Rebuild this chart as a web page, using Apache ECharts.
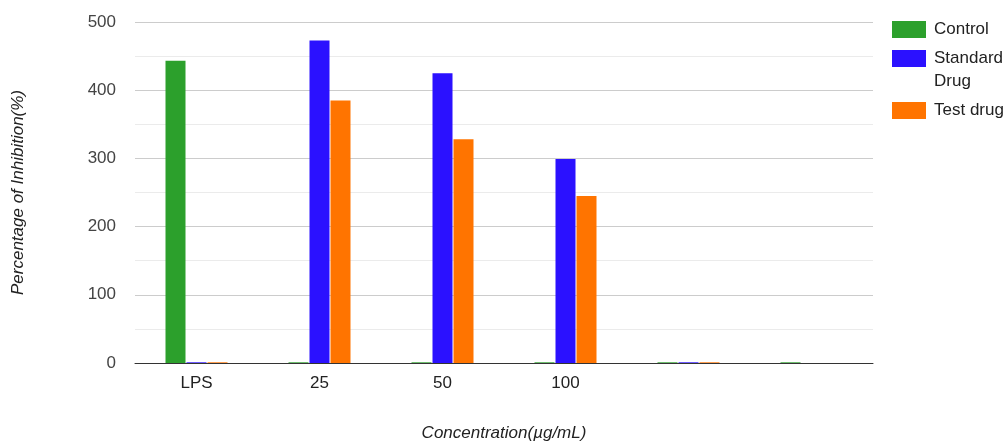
<!DOCTYPE html>
<html>
<head>
<meta charset="utf-8">
<script src="https://cdn.jsdelivr.net/npm/echarts@6/dist/echarts.min.js"></script>
<style>
  html, body { margin: 0; padding: 0; background: #fff; }
  #chart { width: 1007px; height: 441px; }
</style>
</head>
<body>
<div id="chart"></div>
<script>
// Concentration groups along the x axis (two trailing empty slots)
const categories = ['LPS', '25', '50', '100', '', ''];

// Percentage of inhibition per series
const controlValues = [443, 1, 1, 1, 1, 1];
const standardValues = [1, 473, 425, 299, 1, null];
const testValues = [1, 385, 328, 245, 1, null];

const yTicks = { min: 0, max: 500, step: 100 };

const font = 'Arial, "Liberation Sans", sans-serif';
const colors = { control: '#2ca02c', standard: '#2b11ff', test: '#ff7400' };

const tokenStyle = { fontFamily: font, fontSize: 17, color: '#222', lineHeight: 23, padding: [0, 0, 0, 3] };
const legendText = { fontFamily: font, fontSize: 17, color: '#222', lineHeight: 23, rich: { t: tokenStyle } };

function legendAt(top, name, formatter) {
  return {
    orient: 'vertical', left: 892, top: top, padding: 0,
    itemWidth: 34, itemHeight: 17, itemGap: 0, icon: 'rect',
    textStyle: legendText,
    formatter: formatter,
    data: [name]
  };
}

const chart = echarts.init(document.getElementById('chart'), null, { renderer: 'canvas' });

chart.setOption({
  animation: false,
  backgroundColor: '#fff',
  grid: { left: 135, right: 134, top: 22, bottom: 78, containLabel: false, outerBoundsMode: 'none' },
  legend: [
    legendAt(18, 'Control', function () { return '{t|Control}'; }),
    // blank first line keeps "Standard" level with the swatch, "Drug" below
    legendAt(24, 'Standard Drug', function () { return '{t| }\n{t|Standard}\n{t|Drug}'; }),
    legendAt(99, 'Test drug', function () { return '{t|Test drug}'; })
  ],
  xAxis: {
    type: 'category',
    data: categories,
    name: 'Concentration(\u00b5g/mL)',
    nameLocation: 'middle',
    nameGap: 62,
    nameTextStyle: { fontFamily: font, fontSize: 17, fontStyle: 'italic', color: '#222' },
    axisLine: { lineStyle: { color: '#333', width: 1 } },
    axisTick: { show: false },
    axisLabel: { fontFamily: font, fontSize: 17, color: '#222', margin: 12 },
    splitLine: { show: false }
  },
  yAxis: {
    type: 'value',
    min: yTicks.min,
    max: yTicks.max,
    interval: yTicks.step,
    name: 'Percentage of Inhibition(%)',
    nameLocation: 'middle',
    nameGap: 108,
    nameTextStyle: { fontFamily: font, fontSize: 17, fontStyle: 'italic', color: '#222' },
    axisLine: { show: false },
    axisTick: { show: false },
    axisLabel: { fontFamily: font, fontSize: 17, color: '#444', margin: 19 },
    splitLine: { lineStyle: { color: '#cccccc', width: 1 } },
    minorTick: { show: false, splitNumber: 2 },
    minorSplitLine: { show: true, lineStyle: { color: '#ebebeb', width: 1 } }
  },
  series: [
    {
      name: 'Control', type: 'bar', data: controlValues,
      barWidth: 20, barGap: '5%',
      itemStyle: { color: colors.control }
    },
    {
      name: 'Standard Drug', type: 'bar', data: standardValues,
      barWidth: 20, barGap: '5%',
      itemStyle: { color: colors.standard }
    },
    {
      name: 'Test drug', type: 'bar', data: testValues,
      barWidth: 20, barGap: '5%',
      itemStyle: { color: colors.test }
    }
  ]
});
</script>
</body>
</html>
